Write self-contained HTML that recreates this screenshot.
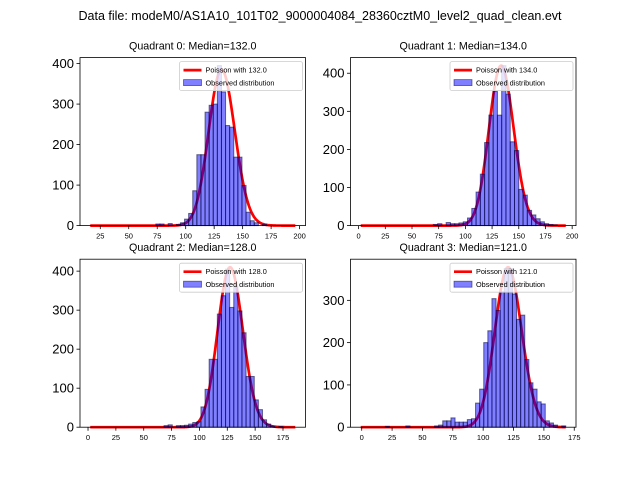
<!DOCTYPE html>
<html><head><meta charset="utf-8"><style>
body{margin:0;background:#fff;}
svg{display:block;font-family:"Liberation Sans","DejaVu Sans",sans-serif;}
</style></head><body>
<svg id="fig" width="640" height="480" viewBox="0 0 640 480">
<rect width="640" height="480" fill="#fff"/>
<text x="320" y="20" font-size="12.5" text-anchor="middle">Data file: modeM0/AS1A10_101T02_9000004084_28360cztM0_level2_quad_clean.evt</text>
</svg>
<script>
// Quadrant 0
const q0Start = 16.2, q0Width = 3.6, q0Median = 132.0, q0Total = 3080;
const q0Counts = [0,0,0,0,0,0,0,0,0,0,0,0,0,0,0,0,4,4,0,5,0,3,7,16,30,86,175,175,280,297,300,395,330,247,243,169,169,99,33,12,7,0,3,0,0,0,0,0,0,0];
const q0XTicks = [25,50,75,100,125,150,175,200];
const q0YTicks = [0,100,200,300,400];
// Quadrant 1
const q1Start = 2, q1Width = 4, q1Median = 134.0, q1Total = 3047;
const q1Counts = [0,0,0,0,0,0,0,0,0,0,0,0,0,0,0,0,0,3,5,0,8,5,5,7,10,20,45,88,135,218,290,352,290,420,345,220,197,95,80,40,28,18,10,5,3,2,0,0];
const q1XTicks = [0,25,50,75,100,125,150,175,200];
const q1YTicks = [0,100,200,300,400];
// Quadrant 2
const q2Start = 2, q2Width = 3.68, q2Median = 128.0, q2Total = 3160;
const q2Counts = [0,0,0,0,0,0,0,0,0,0,0,0,0,0,0,0,0,0,4,6,0,4,4,5,8,12,14,52,97,174,174,290,337,405,307,360,298,242,130,130,70,45,19,8,3,0,2,0,0,0];
const q2XTicks = [0,25,50,75,100,125,150,175];
const q2YTicks = [0,100,200,300,400];
// Quadrant 3
const q3Start = -0.8, q3Width = 3.376, q3Median = 121.0, q3Total = 3090;
const q3Counts = [0,0,0,0,0,0,2,0,0,0,0,3,0,0,0,0,0,0,3,5,15,15,22,12,12,12,18,20,57,90,200,228,304,276,320,375,375,315,255,265,160,105,90,60,55,15,10,5,0,3];
const q3XTicks = [0,25,50,75,100,125,150,175];
const q3YTicks = [0,100,200,300];

const NS = 'http://www.w3.org/2000/svg';
const fig = document.getElementById('fig');
function mk(tag, attrs, parent){const e=document.createElementNS(NS,tag);for(const k in attrs)e.setAttribute(k,attrs[k]);(parent||fig).appendChild(e);return e;}
function lgamma(z){
  let s=0; while(z<7){s-=Math.log(z);z+=1;}
  return s+(z-0.5)*Math.log(z)-z+0.5*Math.log(2*Math.PI)+1/(12*z)-1/(360*z*z*z);
}
function drawPanel(id, box, start, width, counts, median, total, xTicks, yTicks){
  const g = mk('g',{});
  
  
  const n = counts.length, x0 = start, x1 = start+n*width;
  const pad = (x1-x0)*0.05;
  const xmin = x0-pad, xmax = x1+pad;
  const pts=[];
  for(let i=0;i<=300;i++){const k=x0+(x1-x0)*i/300;
    const v=total*width*Math.exp(k*Math.log(median)-median-lgamma(k+1));pts.push([k,v]);}
  const ymaxData = Math.max(...counts, ...pts.map(p=>p[1]));
  const ymax = ymaxData*1.05;
  const X = v => box.x + (v-xmin)/(xmax-xmin)*box.w;
  const Y = v => box.y + box.h - v/ymax*box.h;
  const line = mk('polyline',{points:pts.map(p=>X(p[0]).toFixed(2)+','+Y(p[1]).toFixed(2)).join(' '),fill:'none',stroke:'#ff0000','stroke-width':2.7,'stroke-linejoin':'round'},g);
  
  
  counts.forEach((c,i)=>{
    if(c<=0) return;
    const r = mk('rect',{x:X(start+i*width),y:Y(c),width:X(start+(i+1)*width)-X(start+i*width),height:Y(0)-Y(c),fill:'rgba(0,0,255,0.5)',stroke:'rgba(0,0,60,0.55)','stroke-width':1},g);
    
    
  });
  const fr = mk('rect',{x:box.x,y:box.y,width:box.w,height:box.h,fill:'none',stroke:'#000','stroke-width':0.8},g);
  
  
  xTicks.forEach(t=>{
    const x=X(t);
    mk('line',{x1:x,x2:x,y1:box.y+box.h,y2:box.y+box.h+3.5,stroke:'#000','stroke-width':0.8},g);
    const tx = mk('text',{x:x,y:box.y+box.h+13,'font-size':7.5,'text-anchor':'middle'},g);
    tx.textContent=t;
    
    
  });
  yTicks.forEach(t=>{
    const y=Y(t);
    mk('line',{x1:box.x-3.5,x2:box.x,y1:y,y2:y,stroke:'#000','stroke-width':0.8},g);
    const ty = mk('text',{x:box.x-6,y:y+4.5,'font-size':13,'text-anchor':'end'},g);
    ty.textContent=t;
    
    
  });
  const tt = mk('text',{x:box.x+box.w/2,y:box.y-8,'font-size':10.7,'text-anchor':'middle'},g);
  tt.textContent='Quadrant '+id+': Median='+median.toFixed(1);
  
  
  const lg = mk('g',{},g);
  
  
  const lx=box.x+box.w-126, ly=box.y+4;
  mk('rect',{x:lx,y:ly,width:123,height:29,rx:2,fill:'rgba(255,255,255,0.8)',stroke:'#ccc','stroke-width':0.8},lg);
  mk('line',{x1:lx+4,x2:lx+22,y1:ly+8.5,y2:ly+8.5,stroke:'#ff0000','stroke-width':2.7},lg);
  const l1=mk('text',{x:lx+26,y:ly+11,'font-size':7.3},lg); l1.textContent='Poisson with '+median.toFixed(1);
  
  
  mk('rect',{x:lx+4,y:ly+18,width:18,height:6,fill:'rgba(0,0,255,0.5)',stroke:'rgba(0,0,60,0.55)','stroke-width':0.8},lg);
  const l2=mk('text',{x:lx+26,y:ly+24,'font-size':7.3},lg); l2.textContent='Observed distribution';
  
  
}
drawPanel(0,{x:80,y:57.6,w:225.5,h:168},q0Start,q0Width,q0Counts,q0Median,q0Total,q0XTicks,q0YTicks);
drawPanel(1,{x:350.5,y:57.6,w:225.5,h:168},q1Start,q1Width,q1Counts,q1Median,q1Total,q1XTicks,q1YTicks);
drawPanel(2,{x:80,y:259.2,w:225.5,h:168},q2Start,q2Width,q2Counts,q2Median,q2Total,q2XTicks,q2YTicks);
drawPanel(3,{x:350.5,y:259.2,w:225.5,h:168},q3Start,q3Width,q3Counts,q3Median,q3Total,q3XTicks,q3YTicks);
</script>
</body></html>
